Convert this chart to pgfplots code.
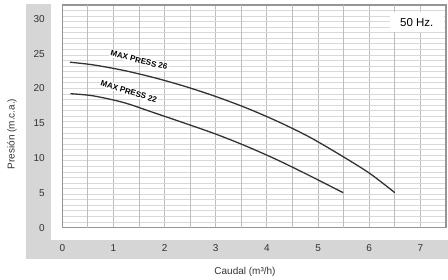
\documentclass[border=0pt]{standalone}
\usepackage{fontspec}
\setmainfont{Liberation Sans}
\usepackage{pgfplots}
\pgfplotsset{compat=1.18}
\definecolor{band}{HTML}{D6D6D6}
\definecolor{vgrid}{HTML}{BDBDBD}
\definecolor{hgrid}{HTML}{D9D9D9}
\definecolor{framec}{HTML}{959595}
\definecolor{curvec}{HTML}{333333}
\definecolor{txt}{HTML}{333333}
\begin{document}
\begin{tikzpicture}
\useasboundingbox (0,0) rectangle (448pt,280pt);
\fill[band] (26pt,21pt) rectangle (51pt,276pt);
\fill[band] (26pt,21pt) rectangle (448pt,40pt);
\begin{axis}[
  at={(62.3pt,52.3pt)}, anchor=south west,
  scale only axis, width=383.7pt, height=222.7pt,
  xmin=0, xmax=7.5, ymin=0, ymax=32,
  xtick={0,1,2,3,4,5,6,7},
  extra x ticks={0.5,1.5,2.5,3.5,4.5,5.5,6.5},
  extra x tick labels={},
  ytick={0,5,10,15,20,25,30},
  minor ytick={0.8,1.6,...,31.3},
  xmajorgrids, yminorgrids, ymajorgrids=false,
  major grid style={draw=vgrid, line width=1pt},
  minor grid style={draw=hgrid, line width=1pt},
  major tick length=0pt, minor tick length=0pt,
  axis line style={draw=framec, line width=1.3pt},
  /pgf/number format/assume math mode=true,
  tick label style={text=txt, font=\fontsize{10}{12}\selectfont},
  xticklabel style={yshift=-13pt},
  yticklabel style={xshift=-14pt},
]
\node[rotate=-14, fill=white, inner sep=1pt, text=black, font=\bfseries\fontsize{8}{9}\selectfont] at (axis cs:1.5,24.05) {MAX PRESS 26};
\node[rotate=-17, fill=white, inner sep=1pt, text=black, font=\bfseries\fontsize{8}{9}\selectfont] at (axis cs:1.3,19.55) {MAX PRESS 22};
\addplot[curvec, line width=1.3pt, smooth] coordinates {
 (0.15,23.78) (0.6,23.4) (1.2,22.6) (1.8,21.55) (2.4,20.3)
 (3.0,18.85) (3.6,17.2) (4.2,15.3) (4.8,13.15) (5.4,10.6)
 (6.0,7.85) (6.5,5.03)};
\addplot[curvec, line width=1.3pt, smooth] coordinates {
 (0.16,19.25) (0.6,18.95) (1.2,17.98) (1.8,16.5) (2.4,15.0)
 (3.0,13.45) (3.6,11.7) (4.2,9.75) (4.8,7.6) (5.49,5.03)};
\node[fill=white, minimum width=54pt, minimum height=20pt, text=black, font=\fontsize{11.5}{13}\selectfont] at (axis cs:6.93,29.55) {50 Hz.};
\end{axis}
\node[rotate=90, text=txt, font=\fontsize{10}{12}\selectfont] at (12pt,146pt) {Presión (m.c.a.)};
\node[text=txt, font=\fontsize{10}{12}\selectfont] at (245pt,8pt) {Caudal (m³/h)};
\end{tikzpicture}
\end{document}
